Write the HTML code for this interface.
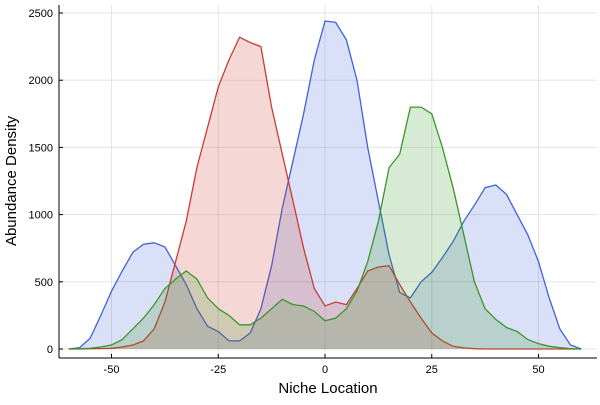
<!DOCTYPE html>
<html><head><meta charset="utf-8"><style>
body{margin:0;background:#fff}
svg text{font-family:"Liberation Sans",sans-serif;fill:#000}
</style></head><body>
<svg id="c" width="600" height="400">
<rect width="600" height="400" fill="#fff"/>
</svg>
<script>
const xs=[];for(let i=0;i<=48;i++)xs.push(-60+2.5*i);
const blueVals=[0,10,80,250,430,580,720,780,790,760,620,480,300,170,130,60,60,120,300,620,1050,1400,1750,2150,2440,2430,2300,2000,1500,1100,700,420,380,500,570,680,800,950,1070,1200,1220,1150,1000,850,650,380,150,30,0];
const redVals=[0,0,2,3,5,15,30,60,150,350,650,950,1350,1650,1950,2150,2320,2280,2250,1800,1450,1100,750,450,320,350,330,450,580,610,620,480,350,230,120,60,20,8,2,0,0,0,0,0,0,0,0,0,0];
const greenVals=[0,2,5,15,30,70,150,230,330,450,520,580,520,380,300,250,180,180,230,300,370,330,320,280,210,230,300,430,650,950,1350,1450,1800,1800,1750,1500,1200,850,500,300,220,160,130,70,40,20,10,3,0];
const xTicks=[-50,-25,0,25,50];
const yTicks=[0,500,1000,1500,2000,2500];
const NS='http://www.w3.org/2000/svg';
const svg=document.getElementById('c');
const X=v=>325+v*4.27, Y=v=>349-v*0.1344;
function mk(t,a){const e=document.createElementNS(NS,t);for(const k in a)e.setAttribute(k,a[k]);svg.appendChild(e);return e;}
xTicks.forEach(t=>{const l=mk('line',{x1:X(t),x2:X(t),y1:5,y2:358,stroke:'#000','stroke-opacity':0.1});
const tx=mk('text',{x:X(t),y:373,'text-anchor':'middle','font-size':11});tx.textContent=t;
mk('line',{x1:X(t),x2:X(t),y1:358,y2:354,stroke:'#000'});});
yTicks.forEach(t=>{const l=mk('line',{x1:59,x2:597,y1:Y(t),y2:Y(t),stroke:'#000','stroke-opacity':0.1});
const tx=mk('text',{x:53,y:Y(t)+4,'text-anchor':'end','font-size':11});tx.textContent=t;
mk('line',{x1:59,x2:63,y1:Y(t),y2:Y(t),stroke:'#000'});});
[[blueVals,'#4063d8','blue'],[redVals,'#cb3c33','red'],[greenVals,'#389826','green']].forEach(([vals,c,n])=>{
const pts=vals.map((v,i)=>X(xs[i]).toFixed(1)+','+Y(v).toFixed(1));
const a=mk('polygon',{points:X(xs[0])+','+Y(0)+' '+pts.join(' ')+' '+X(xs[xs.length-1])+','+Y(0),fill:c,'fill-opacity':0.2});

const l=mk('polyline',{points:pts.join(' '),fill:'none',stroke:c,'stroke-width':1.3});
});
const ax=mk('line',{x1:59,x2:597,y1:358,y2:358,stroke:'#000'});
const ay=mk('line',{x1:59,x2:59,y1:5,y2:358,stroke:'#000'});
const xt=mk('text',{x:328,y:393,'text-anchor':'middle','font-size':15});xt.textContent='Niche Location';
const yt=mk('text',{x:16,y:181,'text-anchor':'middle','font-size':15,transform:'rotate(-90 16 181)'});yt.textContent='Abundance Density';
</script>
</body></html>
